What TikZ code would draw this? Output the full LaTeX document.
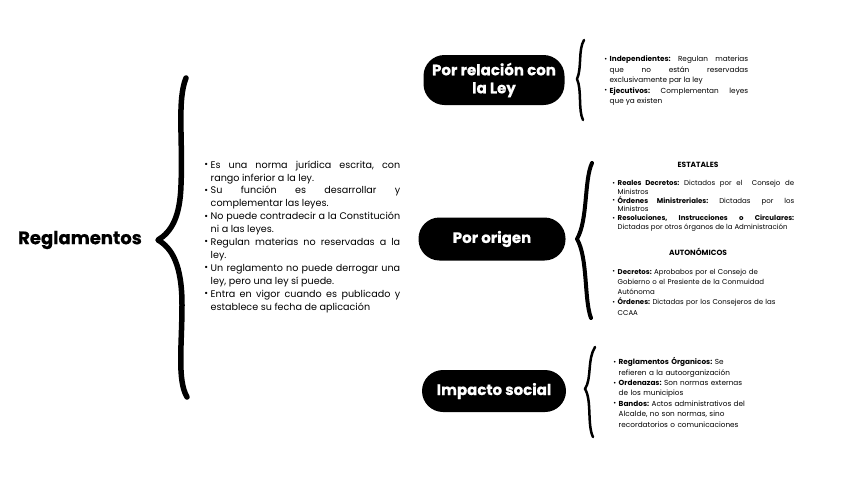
\documentclass[tikz,border=0pt]{standalone}
\usepackage{fontspec}
\setmainfont{Poppins}
\newfontfamily\gruesa{Poppins}[BoldFeatures={FakeBold=0.6}]
\usepackage{enumitem}
\usetikzlibrary{shapes,positioning}
\tikzstyle{brace} = [draw, line cap=round, line join=round]
\newcommand{\punto}{\raisebox{0.1ex}{\scalebox{0.95}{\textbullet}}}
\setlist[itemize]{label=\punto, leftmargin=7.5pt, labelsep=2.5pt, itemsep=0pt, topsep=0pt, parsep=0pt, partopsep=0pt}
\tolerance=10000
\hbadness=10000
\hyphenpenalty=10000
\frenchspacing

\begin{document}
\begin{tikzpicture}[x=1pt, y=-1pt,
    pill/.style={rectangle, fill=black, text=white, rounded corners=21pt, align=center, inner sep=0pt, font=\gruesa\fontsize{15}{18}\selectfont\bfseries},
    lista/.style={anchor=north west, inner sep=0pt, align=justify},
    titulo/.style={font=\fontsize{7.5}{9}\selectfont\bfseries}]
    \useasboundingbox (0,0) rectangle (848,477);

    % tema principal
    \node[font=\gruesa\fontsize{18}{20}\selectfont\bfseries] (Reglamentos) at (80,240) {Reglamentos};
    \draw[brace, line width=5.5pt] (186,78) .. controls (177,100) and (183,140) .. (181,185)
        .. controls (180,218) and (171,232) .. (158,240)
        .. controls (172,248) and (182,265) .. (182,305)
        .. controls (182,345) and (177,380) .. (187,397);

    \node[lista, text width=197pt, font=\fontsize{9.6}{12.9}\selectfont] (Definicion) at (203,155) {
        \begin{itemize}
        \item Es una norma jurídica escrita, con\linebreak rango inferior a la ley.
        \item Su función es desarrollar y\linebreak complementar las leyes.
        \item No puede contradecir a la Constitución\linebreak ni a las leyes.
        \item Regulan materias no reservadas a la\linebreak ley.
        \item Un reglamento no puede derrogar una\linebreak ley, pero una ley sí puede.
        \item Entra en vigor cuando es publicado y\linebreak establece su fecha de aplicación
        \end{itemize}};

    % clasificaciones
    \node[pill, minimum width=141pt, minimum height=50pt] (Relacion) at (494,80) {Por relación con\\la Ley};
    \node[pill, minimum width=147pt, minimum height=43pt] (Origen) at (492,239) {Por origen};
    \node[pill, minimum width=144pt, minimum height=42pt] (Impacto) at (494,391) {Impacto social};

    % llaves pequenas
    \draw[brace, line width=2.5pt] (584,40) .. controls (578,50) and (582,68) .. (577,79)
        .. controls (582,90) and (578,110) .. (583,120);
    \draw[brace, line width=4pt] (592,163) .. controls (584,180) and (588,220) .. (577,239)
        .. controls (588,258) and (584,300) .. (591,318);
    \draw[brace, line width=2.5pt] (595,347) .. controls (587,360) and (592,378) .. (585,389)
        .. controls (592,400) and (587,425) .. (593,437);

    \node[lista, text width=146pt, font=\fontsize{7.3}{10.5}\selectfont] (Ley) at (602,51) {
        \begin{itemize}
        \item \textbf{Independientes:} Regulan materias\linebreak que no están reservadas\linebreak exclusivamente par la ley
        \item \textbf{Ejecutivos:} Complementan leyes\linebreak que ya existen
        \end{itemize}};

    \node[titulo] (Estatales) at (698,165) {ESTATALES};
    \node[lista, text width=184pt, font=\fontsize{7}{8.8}\selectfont] (ListaEstatal) at (610,176.5) {
        \begin{itemize}
        \item \textbf{Reales Decretos:} Dictados por el\ \ Consejo de\linebreak Ministros
        \item \textbf{Órdenes Ministreriales:} Dictadas por los\linebreak Ministros
        \item \textbf{Resoluciones, Instrucciones o Circulares:}\linebreak Dictadas por otros órganos de la Administración
        \end{itemize}};

    \node[titulo] (Autonomicos) at (698,252) {AUTONÓMICOS};
    \node[lista, text width=170pt, align=left, font=\fontsize{7}{10.3}\selectfont] (ListaAutonomica) at (610,263.5) {
        \begin{itemize}
        \item \textbf{Decretos:} Aprobabos por el Consejo de\newline Gobierno o el Presiente de la Conmuidad\newline Autónoma
        \item \textbf{Órdenes:} Dictadas por los Consejeros de las\newline CCAA
        \end{itemize}};

    \node[lista, text width=150pt, align=left, font=\fontsize{7.3}{10.4}\selectfont] (Social) at (611,354) {
        \begin{itemize}
        \item \textbf{Reglamentos Órganicos:} Se\newline refieren a la autoorganización
        \item \textbf{Ordenazas:} Son normas externas\newline de los municipios
        \item \textbf{Bandos:} Actos administrativos del\newline Alcalde, no son normas, sino\newline recordatorios o comunicaciones
        \end{itemize}};
\end{tikzpicture}
\end{document}
